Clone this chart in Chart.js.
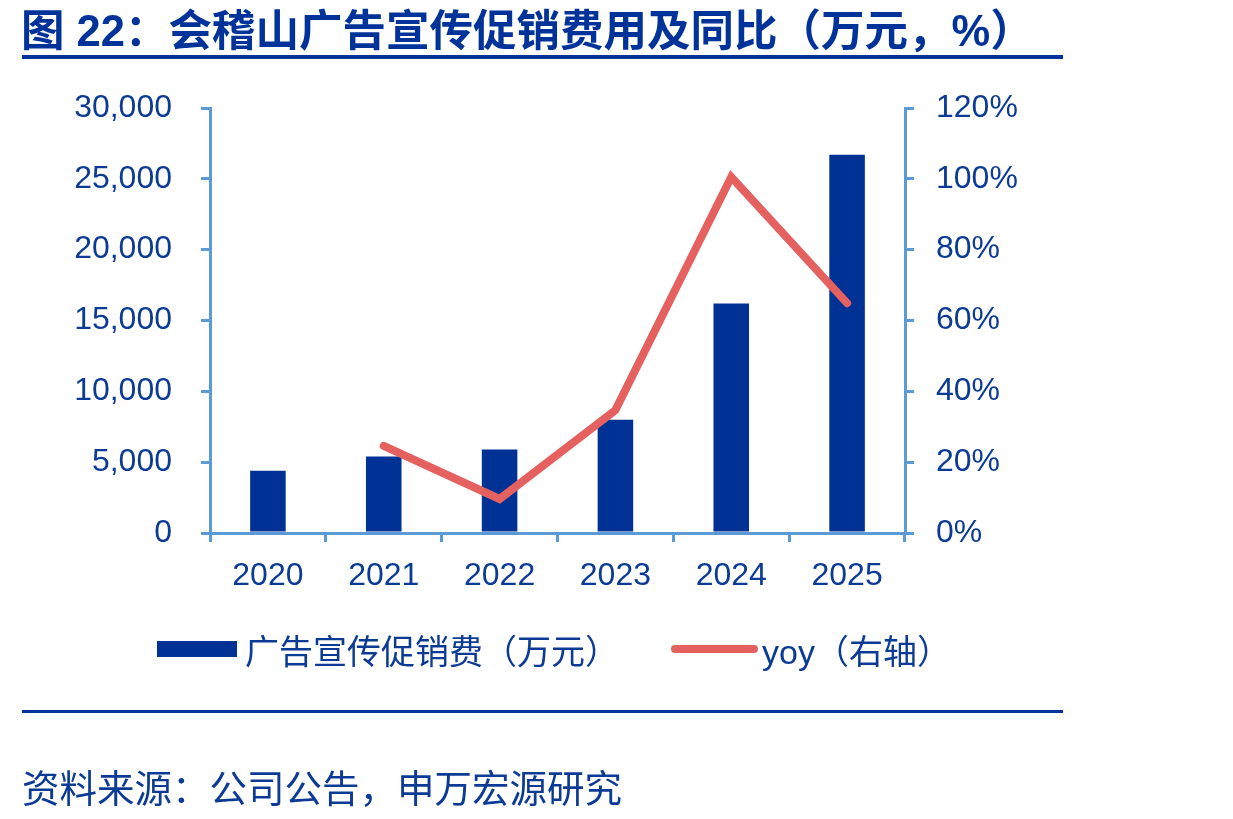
<!DOCTYPE html>
<html>
<head>
<meta charset="utf-8">
<script src="https://cdn.jsdelivr.net/npm/chart.js@4.4.1/dist/chart.umd.min.js"></script>
<style>
  html, body { margin: 0; padding: 0; background: #fff; }
  body {
    width: 1233px; height: 819px; position: relative; overflow: hidden;
    font-family: "Liberation Sans", "Noto Sans CJK SC", sans-serif;
    color: #0b3b94;
  }
  #chart { position: absolute; left: 0; top: 0; }
  .title {
    position: absolute; left: 21px; top: 6px; white-space: nowrap;
    font-size: 43.5px; font-weight: bold; line-height: 50px; color: #003399;
  }
  .rule { position: absolute; left: 22px; width: 1041px; background: #003399; }
  .legend-text {
    position: absolute; top: 628px; font-size: 34px; line-height: 44px; white-space: nowrap;
    font-family: "Noto Sans CJK SC", sans-serif;
  }
  .source {
    position: absolute; left: 22px; top: 763px; font-size: 37.5px; line-height: 46px; white-space: nowrap;
    font-family: "Noto Sans CJK SC", sans-serif;
  }
</style>
</head>
<body>
<canvas id="chart" width="1233" height="819"></canvas>

<div class="title">图 22：会稽山广告宣传促销费用及同比（万元，%）</div>
<div class="rule" style="top:55px;height:4px"></div>

<div style="position:absolute;left:157px;top:641px;width:80px;height:16px;background:#003296"></div>
<div class="legend-text" style="left:245px">广告宣传促销费（万元）</div>
<div style="position:absolute;left:671px;top:645px;width:87px;height:8px;border-radius:4px;background:#e56160"></div>
<div class="legend-text" style="left:762px"><span style="font-family:'Liberation Sans'">yoy</span>（右轴）</div>

<div class="rule" style="top:710px;height:3px"></div>
<div class="source">资料来源：公司公告，申万宏源研究</div>

<script>
// 会稽山 advertising & promotion expenses (万元) and yoy (%)
const years = ["2020", "2021", "2022", "2023", "2024", "2025"]
const promoCost = [4400, 5400, 5900, 8000, 16200, 26700]
const yoyPct = [null, 24.6, 9.6, 34.7, 100.5, 64.9]

const leftMax = 30000
const leftStep = 5000
const rightMax = 120
const rightStep = 20

const axisColor = "#5b9bd5"
const textColor = "#0b3b94"
const barColor = "#003296"
const lineColor = "#e56160"
const tickFont = { family: "'Liberation Sans', Arial, sans-serif", size: 32 }

const ctx = document.getElementById("chart").getContext("2d")

new Chart(ctx, {
  data: {
    labels: years,
    datasets: [
      {
        type: "line",
        label: "yoy（右轴）",
        data: yoyPct,
        yAxisID: "y1",
        borderColor: lineColor,
        borderWidth: 8,
        borderCapStyle: "round",
        borderJoinStyle: "miter",
        pointRadius: 0,
        tension: 0,
        order: 1,
      },
      {
        type: "bar",
        label: "广告宣传促销费（万元）",
        data: promoCost,
        yAxisID: "y",
        backgroundColor: barColor,
        barPercentage: 0.307,
        categoryPercentage: 1,
        order: 2,
      },
    ],
  },
  options: {
    responsive: false,
    animation: false,
    devicePixelRatio: 1,
    layout: { padding: { left: 0, right: 0, top: 108, bottom: 0 } },
    plugins: {
      legend: { display: false },
      tooltip: { enabled: false },
    },
    scales: {
      x: {
        grid: {
          offset: true,
          drawOnChartArea: false,
          drawTicks: true,
          tickLength: 9,
          color: axisColor,
          lineWidth: 3,
        },
        border: { display: true, color: axisColor, width: 3 },
        ticks: { color: textColor, font: tickFont, padding: 15, maxRotation: 0 },
        afterFit: (scale) => { scale.height = 286 },
      },
      y: {
        position: "left",
        min: 0,
        max: leftMax,
        grid: {
          drawOnChartArea: false,
          tickLength: 9,
          color: axisColor,
          lineWidth: 3,
        },
        border: { display: true, color: axisColor, width: 3 },
        ticks: {
          stepSize: leftStep,
          color: textColor,
          font: tickFont,
          padding: 29,
          callback: (v) => v.toLocaleString("en-US"),
        },
        afterFit: (scale) => { scale.width = 210 },
      },
      y1: {
        position: "right",
        min: 0,
        max: rightMax,
        grid: {
          drawOnChartArea: false,
          tickLength: 9,
          color: axisColor,
          lineWidth: 3,
        },
        border: { display: true, color: axisColor, width: 3 },
        ticks: {
          stepSize: rightStep,
          color: textColor,
          font: tickFont,
          padding: 22,
          callback: (v) => v + "%",
        },
        afterFit: (scale) => { scale.width = 328 },
      },
    },
  },
})
</script>
</body>
</html>
